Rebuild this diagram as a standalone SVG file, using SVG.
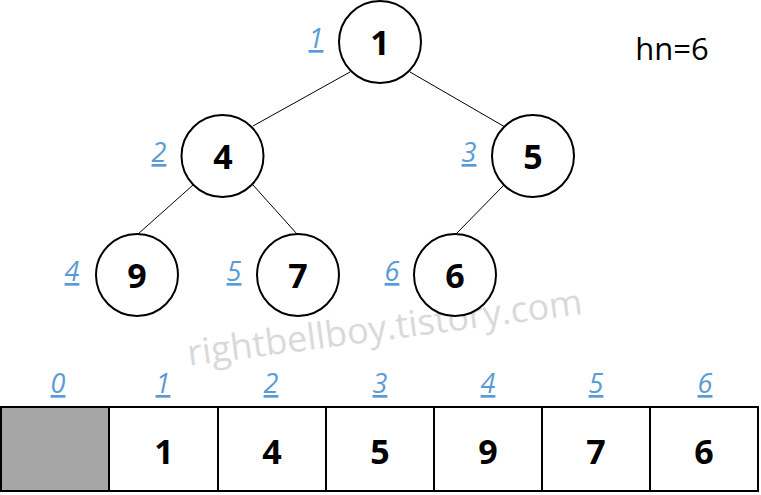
<svg xmlns="http://www.w3.org/2000/svg" width="761" height="495" viewBox="0 0 761 495">
<style>
.n circle{fill:#fff;stroke:#000;stroke-width:2}
.v{font-family:"Open Sans","Noto Sans",sans-serif;font-weight:bold;font-size:34px;text-anchor:middle;fill:#000}
.i{font-family:"Open Sans","Noto Sans",sans-serif;font-style:italic;font-size:27px;text-anchor:middle;fill:#5B9BD5;text-decoration:underline}
.e line{stroke:#000;stroke-width:1}
.c{fill:#fff;stroke:#000;stroke-width:2}
</style>
<rect width="761" height="495" fill="#fff"/>
<g class="e" id="connectors">
<line x1="350" y1="72" x2="253" y2="126"/>
<line x1="410" y1="72" x2="505" y2="127"/>
<line x1="193" y1="185" x2="138" y2="234"/>
<line x1="253" y1="185" x2="297" y2="234"/>
<line x1="504" y1="185" x2="456" y2="234"/>
</g>
<text x="384" y="340" transform="rotate(-7.5 384 322)" font-family="Open Sans, Noto Sans, sans-serif" font-size="36" fill="#D9D9D9" text-anchor="middle">rightbellboy.tistory.com</text>
<g class="n" id="node1"><circle cx="380" cy="42" r="41"/><text class="v" x="380" y="55">1</text><text class="i" x="316" y="48">1</text></g>
<g class="n" id="node4"><circle cx="222.5" cy="156" r="41"/><text class="v" x="223" y="169">4</text><text class="i" x="159" y="162">2</text></g>
<g class="n" id="node5"><circle cx="533" cy="156" r="41"/><text class="v" x="533" y="169">5</text><text class="i" x="469" y="162">3</text></g>
<g class="n" id="node9"><circle cx="137" cy="275" r="41"/><text class="v" x="137" y="288">9</text><text class="i" x="72" y="281">4</text></g>
<g class="n" id="node7"><circle cx="298" cy="275" r="41"/><text class="v" x="298" y="288">7</text><text class="i" x="234" y="281">5</text></g>
<g class="n" id="node6"><circle cx="455" cy="275" r="41"/><text class="v" x="455" y="288">6</text><text class="i" x="392" y="281">6</text></g>
<text x="672" y="60" font-family="Open Sans, Noto Sans, sans-serif" font-size="31" text-anchor="middle" fill="#000">hn=6</text>
<g id="array">
<rect x="1" y="407" width="108" height="84" fill="#A6A6A6" stroke="#000" stroke-width="2"/>
<rect class="c" x="109" y="407" width="109" height="84"/>
<rect class="c" x="218" y="407" width="108" height="84"/>
<rect class="c" x="326" y="407" width="108" height="84"/>
<rect class="c" x="434" y="407" width="108" height="84"/>
<rect class="c" x="542" y="407" width="108" height="84"/>
<rect class="c" x="650" y="407" width="108" height="84"/>
<text class="v" x="164" y="464">1</text>
<text class="v" x="272" y="464">4</text>
<text class="v" x="380" y="464">5</text>
<text class="v" x="488" y="464">9</text>
<text class="v" x="596" y="464">7</text>
<text class="v" x="704" y="464">6</text>
<text class="i" x="58" y="393">0</text>
<text class="i" x="163" y="393">1</text>
<text class="i" x="271" y="393">2</text>
<text class="i" x="380" y="393">3</text>
<text class="i" x="488" y="393">4</text>
<text class="i" x="596" y="393">5</text>
<text class="i" x="705" y="393">6</text>
</g>
</svg>
